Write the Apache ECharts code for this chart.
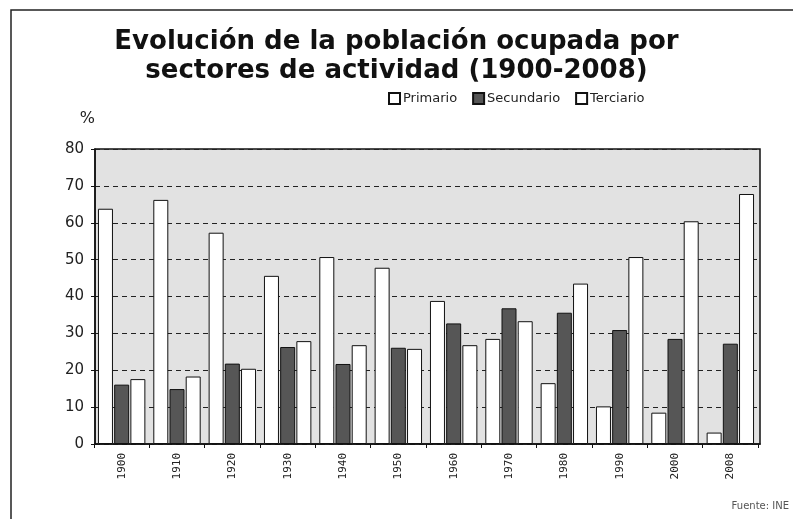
<!DOCTYPE html>
<html>
<head>
<meta charset="utf-8">
<script src="https://cdn.jsdelivr.net/npm/echarts@6/dist/echarts.min.js"></script>
<style>
    html, body {margin: 0; padding: 0; background: #fff;}
    #container {width: 793px; height: 519px;}
</style>
</head>
<body>
<div id="container"></div>
<script>
var years = ['1900', '1910', '1920', '1930', '1940', '1950', '1960', '1970', '1980', '1990', '2000', '2008'];
var primario = [63.8, 66.2, 57.3, 45.6, 50.7, 47.8, 38.8, 28.5, 16.5, 10.2, 8.5, 3.1];
var secundario = [16.1, 14.9, 21.8, 26.3, 21.7, 26.1, 32.7, 36.8, 35.6, 30.9, 28.5, 27.2];
var terciario = [17.6, 18.3, 20.4, 27.9, 26.8, 25.8, 26.8, 33.3, 43.5, 50.7, 60.4, 67.8];
var yTicks = [0, 10, 20, 30, 40, 50, 60, 70, 80];

createChart();

function createChart() {
    var dom = document.getElementById("container");
    var myChart = echarts.init(dom);
    var font = 'DejaVu Sans';
    var barStyle = function (color) {
        return {
            color: color,
            borderColor: '#111',
            borderWidth: 1
        };
    };
    var option = {
        backgroundColor: '#fff',
        animation: false,
        textStyle: {fontFamily: font},
        title: {
            text: 'Evolución de la población ocupada por\nsectores de actividad (1900-2008)',
            left: 'center',
            top: 23,
            textStyle: {
                fontFamily: font,
                fontSize: 26,
                fontWeight: 'bold',
                color: '#111',
                lineHeight: 29
            }
        },
        legend: {
            data: ['Primario', 'Secundario', 'Terciario'],
            left: 383,
            top: 87,
            itemWidth: 11,
            itemHeight: 11,
            itemGap: 15,
            icon: 'rect',
            textStyle: {fontFamily: font, fontSize: 13, color: '#222', padding: [0, 0, 0, -2]}
        },
        grid: [
            {
                left: 95,
                right: 33,
                top: 149,
                bottom: 75,
                show: true,
                backgroundColor: '#e2e2e2',
                borderColor: '#111',
                borderWidth: 1.5
            },
            {
                left: 94,
                right: 35,
                top: 149,
                bottom: 75
            }
        ],
        xAxis: [
            {
                type: 'category',
                gridIndex: 0,
                data: years,
                axisLine: {lineStyle: {color: '#111', width: 1.5}},
                axisTick: {show: false},
                axisLabel: {show: false}
            },
            {
                type: 'category',
                gridIndex: 1,
                data: years,
                axisLine: {show: false},
                axisTick: {show: true, length: 4, lineStyle: {color: '#111'}},
                axisLabel: {
                    rotate: 90,
                    fontSize: 11,
                    color: '#222',
                    margin: 9,
                    fontFamily: 'DejaVu Sans Mono'
                }
            }
        ],
        yAxis: [
            {
                type: 'value',
                gridIndex: 0,
                min: yTicks[0],
                max: yTicks[yTicks.length - 1],
                interval: 10,
                name: '%',
                nameGap: 22,
                nameTextStyle: {fontFamily: font, fontSize: 16, color: '#222', align: 'right'},
                axisLine: {show: true, lineStyle: {color: '#111', width: 1.5}},
                axisTick: {show: true, length: 4, lineStyle: {color: '#111'}},
                axisLabel: {fontSize: 15, color: '#222', margin: 11},
                splitLine: {show: true, lineStyle: {color: '#222', type: [5, 4], width: 1}}
            },
            {
                type: 'value',
                gridIndex: 1,
                min: yTicks[0],
                max: yTicks[yTicks.length - 1],
                interval: 10,
                show: false,
                splitLine: {show: false}
            }
        ],
        series: [
            {
                name: 'Primario',
                type: 'bar',
                xAxisIndex: 1,
                yAxisIndex: 1,
                barWidth: 15,
                barGap: '8%',
                itemStyle: barStyle('#ffffff'),
                data: primario
            },
            {
                name: 'Secundario',
                type: 'bar',
                xAxisIndex: 1,
                yAxisIndex: 1,
                barWidth: 15,
                barGap: '8%',
                itemStyle: barStyle('#565656'),
                data: secundario
            },
            {
                name: 'Terciario',
                type: 'bar',
                xAxisIndex: 1,
                yAxisIndex: 1,
                barWidth: 15,
                barGap: '8%',
                itemStyle: barStyle('#ffffff'),
                data: terciario
            }
        ],
        graphic: [
            {
                type: 'polyline',
                shape: {points: [[11, 519], [11, 10], [793, 10]]},
                style: {stroke: '#222', lineWidth: 1.5, fill: null}
            },
            {
                type: 'text',
                right: 4,
                top: 501,
                style: {text: 'Fuente: INE', fontFamily: font, fontSize: 10, fill: '#555'}
            }
        ]
    };
    myChart.setOption(option, true);
}
</script>
</body>
</html>
